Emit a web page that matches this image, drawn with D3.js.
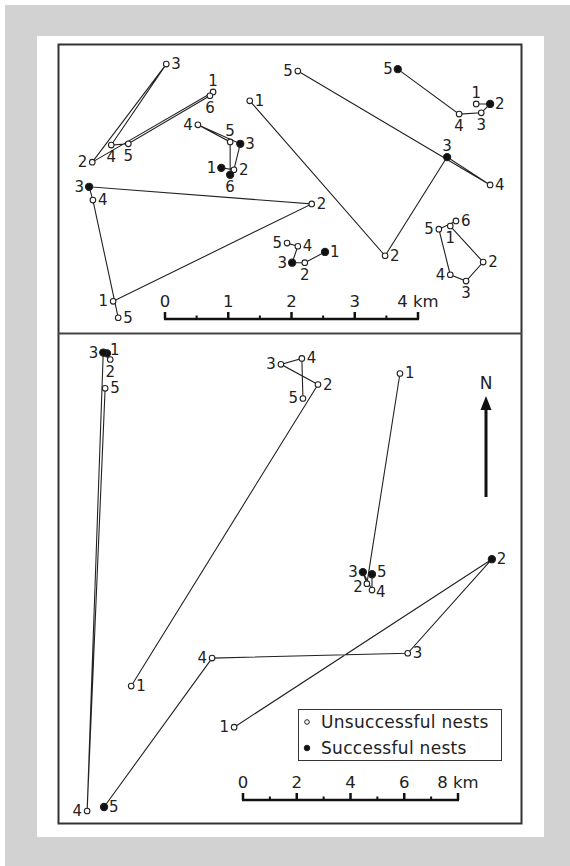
<!DOCTYPE html>
<html><head><meta charset="utf-8">
<script src="https://cdn.jsdelivr.net/npm/d3@7"></script>
<style>html,body{margin:0;padding:0;background:#fff}svg{display:block}</style>
</head><body>
<script>
// ---- Data (km, x east / y north, relative to the scale-bar origin of each panel) ----
// s: 1 = successful nest (filled), 0 = unsuccessful (open)
const topTracks = [
  {x:[0.76,-1.15,0.02,-0.85,-0.58,0.71], y:[3.59,2.48,4.03,2.75,2.77,3.53], s:[0,0,0,0,0,0]},
  {x:[0.89,1.09,1.19,0.52,1.03,1.03], y:[2.39,2.36,2.77,3.07,2.80,2.28], s:[1,0,1,0,0,1]},
  {x:[1.34,3.48,4.46,5.14,2.10], y:[3.45,1.00,2.56,2.12,3.92], s:[0,0,1,0,0]},
  {x:[4.92,5.14,5.00,4.65,3.68], y:[3.40,3.40,3.26,3.24,3.95], s:[0,1,0,0,1]},
  {x:[-0.82,2.32,-1.20,-1.14,-0.74], y:[0.28,1.82,2.09,1.88,0.02], s:[0,0,1,0,0]},
  {x:[2.53,2.21,2.01,2.10,1.93], y:[1.06,0.89,0.89,1.15,1.20], s:[1,0,1,0,0]},
  {x:[4.51,5.03,4.76,4.51,4.33,4.60], y:[1.47,0.90,0.60,0.70,1.42,1.55], s:[0,0,0,0,0,0]}
];
const topLabelSide = [
  ["t","l","r","b","b","b"],
  ["l","r","r","l","t","b"],
  ["r","r","t","r","l"],
  ["t","r","b","b","l"],
  ["l","r","l","r","r"],
  ["r","b","l","r","l"],
  ["b","r","b","l","l","r"]
];
const bottomTracks = [
  {x:[-5.06,-4.94,-5.20,-5.80,-5.13], y:[16.62,16.39,16.65,-0.41,15.32], s:[1,0,1,0,0]},
  {x:[-4.16,2.79,1.41,2.19,2.23], y:[4.24,15.46,16.21,16.43,14.94], s:[0,0,0,0,0]},
  {x:[5.84,4.61,4.46,4.80,4.80], y:[15.87,8.05,8.48,7.81,8.40], s:[0,0,1,0,1]},
  {x:[-0.33,9.26,6.13,-1.15,-5.17], y:[2.71,8.96,5.46,5.28,-0.26], s:[0,1,0,0,1]}
];
const bottomLabelSide = [
  ["tr","b","l","l","r"],
  ["r","r","l","r","l"],
  ["r","bl","l","br","ur"],
  ["l","r","r","l","r"]
];
const topScaleTicks = [0,1,2,3,4];
const topScaleLabels = ["0","1","2","3","4 km"];
const bottomScaleTicks = [0,2,4,6,8];
const bottomScaleLabels = ["0","2","4","6","8 km"];
const legendItems = [{label:"Unsuccessful nests", s:0},{label:"Successful nests", s:1}];

// ---- Drawing ----
const W = 570, H = 866;
const svg = d3.select("body").append("svg").attr("width", W).attr("height", H)
  .style("font-family", "'DejaVu Sans', Verdana, sans-serif");

svg.append("rect").attr("x",5).attr("y",5).attr("width",W-5).attr("height",H-5).attr("fill","#d2d2d2");
svg.append("rect").attr("x",37).attr("y",36).attr("width",507).attr("height",801).attr("fill","#fff");
svg.append("rect").attr("x",58.5).attr("y",44.5).attr("width",463).attr("height",779)
  .attr("fill","none").attr("stroke","#333").attr("stroke-width",2);
svg.append("line").attr("x1",58).attr("x2",522).attr("y1",333.5).attr("y2",333.5)
  .attr("stroke","#444").attr("stroke-width",2);

const xTop = d3.scaleLinear().domain([0,4]).range([165,418]);
const yTop = d3.scaleLinear().domain([0,4]).range([319,66]);
const xBot = d3.scaleLinear().domain([0,8]).range([243,458]);
const yBot = d3.scaleLinear().domain([0,8]).range([800,585]);

function drawTracks(tracks, sides, xs, ys) {
  const g = svg.append("g");
  const line = d3.line().x(d => xs(d[0])).y(d => ys(d[1]));
  tracks.forEach((t, ti) => {
    const pts = t.x.map((v,i) => [v, t.y[i]]);
    g.append("path").attr("d", line(pts)).attr("fill","none")
      .attr("stroke","#222").attr("stroke-width",1.1);
  });
  tracks.forEach((t, ti) => {
    const pts = t.x.map((v,i) => [v, t.y[i], t.s[i], i+1, sides[ti][i]]);
    pts.forEach(p => {
      const cx = xs(p[0]), cy = ys(p[1]);
      g.append("circle").attr("cx",cx).attr("cy",cy)
        .attr("r", p[2] ? 3.6 : 2.8)
        .attr("fill", p[2] ? "#111" : "#fff")
        .attr("stroke","#222").attr("stroke-width",1.1);
      let dx = 0, dy = 0, anchor = "middle";
      const side = p[4];
      if (side === "r") { dx = 5; anchor = "start"; }
      if (side === "l") { dx = -5; anchor = "end"; }
      if (side === "t") { dy = -11; }
      if (side === "b") { dy = 12; }
      if (side === "tr") { dx = 3; dy = -3; anchor = "start"; }
      if (side === "bl") { dx = -4; dy = 3; anchor = "end"; }
      if (side === "br") { dx = 4; dy = 2; anchor = "start"; }
      if (side === "ur") { dx = 5; dy = -2; anchor = "start"; }
      g.append("text").attr("x",cx+dx).attr("y",cy+dy)
        .attr("text-anchor",anchor).attr("dominant-baseline","central")
        .attr("font-size",15).attr("fill","#222").text(p[3]);
    });
  });
}
drawTracks(topTracks, topLabelSide, xTop, yTop);
drawTracks(bottomTracks, bottomLabelSide, xBot, yBot);

function scaleBar(xs, y0, ticks, labels, fs) {
  const g = svg.append("g");
  const d0 = ticks[0], d1 = ticks[ticks.length-1];
  g.append("line").attr("x1",xs(d0)-1).attr("x2",xs(d1)+1).attr("y1",y0).attr("y2",y0)
    .attr("stroke","#111").attr("stroke-width",2.5);
  ticks.forEach((t,i) => {
    g.append("line").attr("x1",xs(t)).attr("x2",xs(t)).attr("y1",y0).attr("y2",y0-7)
      .attr("stroke","#111").attr("stroke-width",2.5);
    g.append("text").attr("x",xs(t)).attr("y",y0-12).attr("text-anchor","middle")
      .attr("font-size",fs).attr("fill","#222").text(labels[i]);
    if (i < ticks.length-1) {
      const m = (t + ticks[i+1]) / 2;
      g.append("line").attr("x1",xs(m)).attr("x2",xs(m)).attr("y1",y0).attr("y2",y0-3.5)
        .attr("stroke","#111").attr("stroke-width",2);
    }
  });
}
scaleBar(xTop, 319, topScaleTicks, topScaleLabels, 16.5);
scaleBar(xBot, 800, bottomScaleTicks, bottomScaleLabels, 16.5);

// Legend
const lg = svg.append("g");
lg.append("rect").attr("x",298.5).attr("y",709.5).attr("width",203).attr("height",51)
  .attr("fill","#fff").attr("stroke","#333").attr("stroke-width",1);
legendItems.forEach((d,i) => {
  const cy = 722 + i*26;
  lg.append("circle").attr("cx",307).attr("cy",cy).attr("r", d.s ? 2.8 : 2.3)
    .attr("fill", d.s ? "#111" : "#fff").attr("stroke","#222").attr("stroke-width",1);
  lg.append("text").attr("x",321).attr("y",cy).attr("dominant-baseline","central")
    .attr("font-size",17).attr("letter-spacing",0.3).attr("fill","#222").text(d.label);
});

// North arrow
const na = svg.append("g");
na.append("line").attr("x1",486).attr("x2",486).attr("y1",406).attr("y2",497)
  .attr("stroke","#111").attr("stroke-width",3);
na.append("path").attr("d","M486,396 L480.5,410 L491.5,410 Z").attr("fill","#111");
na.append("text").attr("x",486).attr("y",383).attr("text-anchor","middle")
  .attr("dominant-baseline","central").attr("font-size",17).attr("fill","#222").text("N");
</script>
</body></html>
